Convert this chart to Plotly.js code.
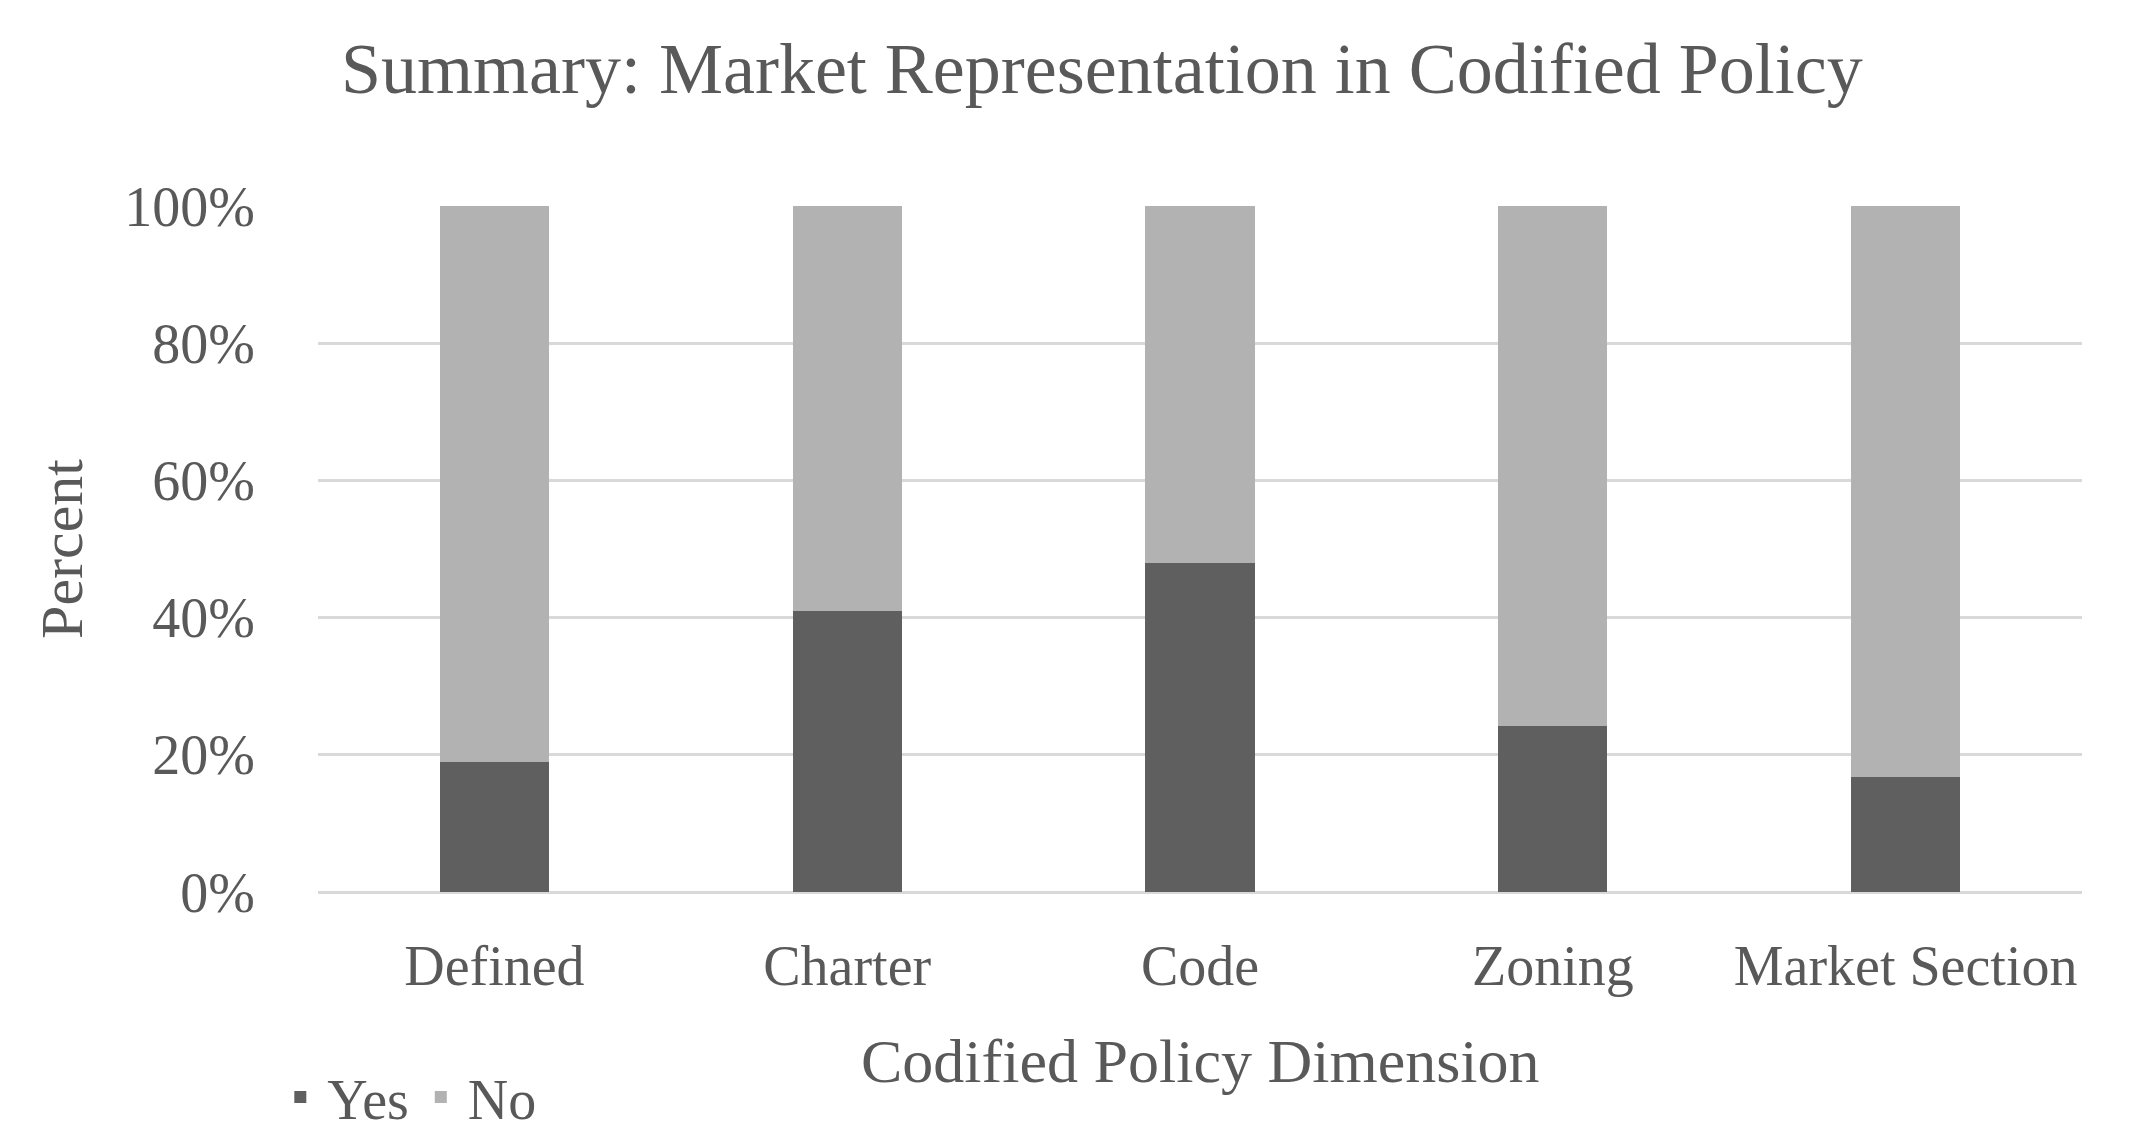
<!DOCTYPE html>
<html>
<head>
<meta charset="utf-8">
<script src="https://cdn.plot.ly/plotly-3.0.1.min.js"></script>
<style>html,body{margin:0;padding:0;background:#fff;}#chart{width:2152px;height:1138px;}</style>
</head>
<body>
<div id="chart"></div>
<script>
const categories = ["Defined", "Charter", "Code", "Zoning", "Market Section"];
const yesValues = [19, 41, 48, 24.2, 16.7];
const noValues = [81, 59, 52, 75.8, 83.3];
const seriesNames = ["Yes", "No"];
const yTickVals = [0, 20, 40, 60, 80, 100];
const yTickText = ["0%", "20%", "40%", "60%", "80%", "100%"];
const xAxisTitle = "Codified Policy Dimension";

const FONT = "'Liberation Serif', 'DejaVu Serif', serif";
const TXT = "#595959";

const traces = [
  {type: "bar", name: seriesNames[0], x: categories, y: yesValues, marker: {color: "#5f5f5f"}, hoverinfo: "x+y+name"},
  {type: "bar", name: seriesNames[1], x: categories, y: noValues, marker: {color: "#b2b2b2"}, hoverinfo: "x+y+name"}
];

const layout = {
  width: 2152, height: 1138,
  paper_bgcolor: "#ffffff", plot_bgcolor: "#ffffff",
  barmode: "stack", bargap: 0.69,
  margin: {l: 318, r: 70, t: 206, b: 246, autoexpand: false},
  font: {family: FONT, color: TXT, size: 58},
  title: {text: "Summary: Market Representation in Codified Policy", x: 0.512, xanchor: "center", y: 0.94, yanchor: "middle", font: {family: FONT, size: 72, color: TXT}},
  xaxis: {
    tickfont: {family: FONT, size: 56, color: TXT}, automargin: false,
    showgrid: false, zeroline: false, showline: false, ticks: "", ticklabelstandoff: 36
  },
  yaxis: {
    title: {text: "Percent", font: {family: FONT, size: 60, color: TXT}, standoff: 22},
    range: [0, 100], tickvals: yTickVals, ticktext: yTickText,
    tickfont: {family: FONT, size: 56, color: TXT}, automargin: true,
    showgrid: true, gridcolor: "#d9d9d9", gridwidth: 3,
    zeroline: true, zerolinecolor: "#d9d9d9", zerolinewidth: 3,
    showline: false, ticks: "", ticklabelstandoff: 62
  },
  annotations: [
    {text: xAxisTitle, xref: "paper", yref: "paper", x: 0.5, y: -0.246, xanchor: "center", yanchor: "middle", showarrow: false, font: {family: FONT, size: 62, color: TXT}}
  ],
  legend: {orientation: "h", x: 0.127, xref: "container", xanchor: "left", y: 0.036, yref: "container", yanchor: "middle", font: {family: FONT, size: 56, color: TXT}, traceorder: "normal", itemwidth: 44, tracegroupgap: 0},
  showlegend: true
};

Plotly.newPlot("chart", traces, layout, {displayModeBar: false, staticPlot: true});
</script>
</body>
</html>
